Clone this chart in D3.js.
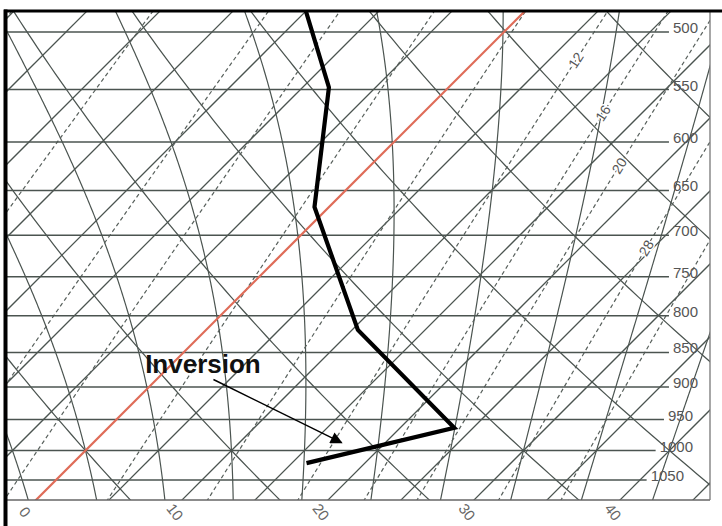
<!DOCTYPE html>
<html>
<head>
<meta charset="utf-8">
<script src="https://cdn.jsdelivr.net/npm/d3@7"></script>
<style>
  body { margin: 0; background: #fff; }
  svg text { font-family: Arial, "Liberation Sans", sans-serif; }
</style>
</head>
<body>
<svg id="chart" width="722" height="526"></svg>
<script>
// chart values
var isobars = [500, 550, 600, 650, 700, 750, 800, 850, 900, 950, 1000, 1050];
var isotherms = [-35, -30, -25, -20, -15, -10, -5, 0, 5, 10, 15, 20, 25, 30, 35, 40, 45];
var tempLabels = [0, 10, 20, 30, 40];
var dryAdiabats = [-10, 0, 10, 20, 30, 40, 50, 60, 70, 80];          // theta, degC
var moistAdiabats = [-15, -10, -5, 0, 5, 10, 15, 20, 25, 30, 35, 40, 45]; // theta-w, degC
var mixingRatios = [0.4, 1, 2, 3, 5, 8, 12, 16, 20, 28, 36];          // g/kg
var mixLabels = [12, 16, 20, 28];
var mixLabelP = [524, 572, 624, 715];
var soundingP = [483, 548, 668, 819, 963, 1021];
var soundingT = [-15.0, -8.2, -1.0, 10.4, 23.7, 16.0];
var arrowFrom = {T: 3.9, p: 889};
var arrowTo = {T: 17.0, p: 987};
var noteAt = {T: -1.2, p: 880, text: 'Inversion'};

var plotL = 7, plotT = 12, plotR = 710, plotB = 500;
var gridColor = '#4b5450';

var svg = d3.select('#chart');

var y = d3.scaleLog().domain([500, 1050]).range([32, 480]);
var tx = d3.scaleLinear().domain([0, 10]).range([36, 182]); // isotherm x at the bottom edge
function px(T, p) { return tx(T) + (plotB - y(p)); }

// pressures used to sample the curves
var pSamples = d3.range(0, 81).map(function(i) { return 1110 * Math.pow(465 / 1110, i / 80); });

var line = d3.line()
	.x(function(d) { return px(d[0], d[1]); })
	.y(function(d) { return y(d[1]); });

var defs = svg.append('defs');
defs.append('clipPath').attr('id', 'plot')
	.append('rect')
	.attr('x', plotL).attr('y', plotT)
	.attr('width', plotR - plotL).attr('height', plotB - plotT);

defs.append('marker')
	.attr('id', 'head')
	.attr('viewBox', '0 0 10 10')
	.attr('refX', 9).attr('refY', 5)
	.attr('markerWidth', 15).attr('markerHeight', 12)
	.attr('markerUnits', 'userSpaceOnUse')
	.attr('orient', 'auto')
	.append('path')
	.attr('d', 'M0,0 L10,5 L0,10 z')
	.attr('fill', '#000');

var grid = svg.append('g').attr('clip-path', 'url(#plot)');

function satVap(T) { return 6.112 * Math.exp(17.67 * T / (T + 243.5)); }

function dewFromMix(w, p) {
	var e = (w / 1000) * p / (0.622 + w / 1000);
	var l = Math.log(e / 6.112);
	return 243.5 * l / (17.67 - l);
}

function dTdp(T, p) {
	var Tk = T + 273.15;
	var es = satVap(T);
	var rs = 0.622 * es / (p - es);
	var num = 287 * Tk + 2.5e6 * rs;
	var den = 1005 + 2.5e6 * 2.5e6 * rs * 0.622 / (287 * Tk * Tk);
	return num / den / p;
}

function moistCurve(thw) {
	var step, T, p, k1, k2;
	var down = [];
	T = thw; p = 1000;
	while (p < 1110) {
		step = 2;
		k1 = dTdp(T, p);
		k2 = dTdp(T + k1 * step, p + step);
		T += (k1 + k2) / 2 * step;
		p += step;
		down.push([T, p]);
	}
	down.reverse();
	var pts = down.concat([[thw, 1000]]);
	T = thw; p = 1000;
	while (p > 465) {
		step = -2;
		k1 = dTdp(T, p);
		k2 = dTdp(T + k1 * step, p + step);
		T += (k1 + k2) / 2 * step;
		p += step;
		pts.push([T, p]);
	}
	return pts;
}

// isotherms
grid.selectAll('.isotherm')
	.data(isotherms.filter(function(t) { return t !== 0; }))
	.enter().append('line')
	.attr('class', 'isotherm')
	.attr('x1', function(t) { return px(t, 1110); })
	.attr('y1', y(1110))
	.attr('x2', function(t) { return px(t, 465); })
	.attr('y2', y(465))
	.attr('stroke', gridColor).attr('stroke-width', 1.25);

// dry adiabats
grid.selectAll('.dry')
	.data(dryAdiabats)
	.enter().append('path')
	.attr('class', 'dry')
	.attr('d', function(th) {
		return line(pSamples.map(function(p) {
			return [(th + 273.15) * Math.pow(p / 1000, 0.2857) - 273.15, p];
		}));
	})
	.attr('fill', 'none').attr('stroke', gridColor).attr('stroke-width', 1.25);

// moist adiabats
grid.selectAll('.moist')
	.data(moistAdiabats)
	.enter().append('path')
	.attr('class', 'moist')
	.attr('d', function(thw) { return line(moistCurve(thw)); })
	.attr('fill', 'none').attr('stroke', gridColor).attr('stroke-width', 1.2);

// mixing ratio lines
grid.selectAll('.mix')
	.data(mixingRatios)
	.enter().append('path')
	.attr('class', 'mix')
	.attr('d', function(w) {
		return line(pSamples.map(function(p) { return [dewFromMix(w, p), p]; }));
	})
	.attr('fill', 'none').attr('stroke', '#58605c').attr('stroke-width', 1.2)
	.attr('stroke-dasharray', '4,3');

// isobar labels and lines
var labelEnd = function(p) { return p >= 1050 ? 684 : (p >= 950 ? 693 : 698); };
var isoLabels = svg.selectAll('.isolabel')
	.data(isobars)
	.enter().append('text')
	.attr('class', 'isolabel')
	.attr('x', labelEnd)
	.attr('y', function(p) { return y(p) + 1; })
	.attr('text-anchor', 'end')
	.attr('font-size', 15)
	.attr('fill', '#555')
	.text(function(p) { return p; });

isoLabels.each(function(p) {
	var w = this.getComputedTextLength();
	grid.append('line')
		.attr('x1', plotL).attr('x2', labelEnd(p) - w - 4)
		.attr('y1', y(p)).attr('y2', y(p))
		.attr('stroke', gridColor).attr('stroke-width', 1.5);
});

// mixing ratio labels, turned along their line
svg.selectAll('.mixlabel')
	.data(mixLabels)
	.enter().append('text')
	.attr('class', 'mixlabel')
	.attr('transform', function(w, i) {
		var p = mixLabelP[i];
		var x0 = px(dewFromMix(w, p), p), y0 = y(p);
		var x1 = px(dewFromMix(w, p - 10), p - 10), y1 = y(p - 10);
		var a = Math.atan2(y1 - y0, x1 - x0) * 180 / Math.PI;
		return 'translate(' + x0 + ',' + y0 + ') rotate(' + a + ')';
	})
	.attr('text-anchor', 'middle')
	.attr('dy', '0.35em')
	.attr('font-size', 14)
	.attr('fill', '#555')
	.attr('stroke', '#fff').attr('stroke-width', 3).attr('paint-order', 'stroke')
	.text(function(w) { return w; });

// the 0 degC isotherm in red
grid.append('line')
	.attr('x1', px(0, 1110)).attr('y1', y(1110))
	.attr('x2', px(0, 465)).attr('y2', y(465))
	.attr('stroke', '#df6c58').attr('stroke-width', 2.2);

// temperature labels along the bottom
svg.selectAll('.tlabel')
	.data(tempLabels)
	.enter().append('text')
	.attr('class', 'tlabel')
	.attr('transform', function(t) {
		return 'translate(' + (tx(t) - (t === 0 ? 11 : 7)) + ',' + 512 + ') rotate(52)';
	})
	.attr('text-anchor', 'middle')
	.attr('dy', '0.35em')
	.attr('font-size', 15)
	.attr('fill', '#666')
	.text(function(t) { return t; });

// sounding
svg.append('path')
	.datum(soundingP.map(function(p, i) { return [soundingT[i], p]; }))
	.attr('clip-path', 'url(#plot)')
	.attr('d', line)
	.attr('fill', 'none')
	.attr('stroke', '#000')
	.attr('stroke-width', 4.2)
	.attr('stroke-linejoin', 'miter');

// annotation
svg.append('line')
	.attr('x1', px(arrowFrom.T, arrowFrom.p)).attr('y1', y(arrowFrom.p))
	.attr('x2', px(arrowTo.T, arrowTo.p)).attr('y2', y(arrowTo.p))
	.attr('stroke', '#000').attr('stroke-width', 1.5)
	.attr('marker-end', 'url(#head)');

svg.append('text')
	.attr('x', px(noteAt.T, noteAt.p))
	.attr('y', y(noteAt.p))
	.attr('font-size', 26)
	.attr('font-weight', 'bold')
	.attr('fill', '#111')
	.text(noteAt.text);

// frame
svg.append('line').attr('x1', plotL).attr('x2', plotR).attr('y1', plotB).attr('y2', plotB)
	.attr('stroke', '#666').attr('stroke-width', 1.5);
svg.append('line').attr('x1', plotR).attr('x2', plotR).attr('y1', 10).attr('y2', plotB)
	.attr('stroke', '#777').attr('stroke-width', 1.3);
svg.append('line').attr('x1', 4).attr('x2', 722).attr('y1', 11).attr('y2', 11)
	.attr('stroke', '#000').attr('stroke-width', 3);
svg.append('line').attr('x1', 5.5).attr('x2', 5.5).attr('y1', 9.5).attr('y2', 526)
	.attr('stroke', '#000').attr('stroke-width', 4);
</script>
</body>
</html>
